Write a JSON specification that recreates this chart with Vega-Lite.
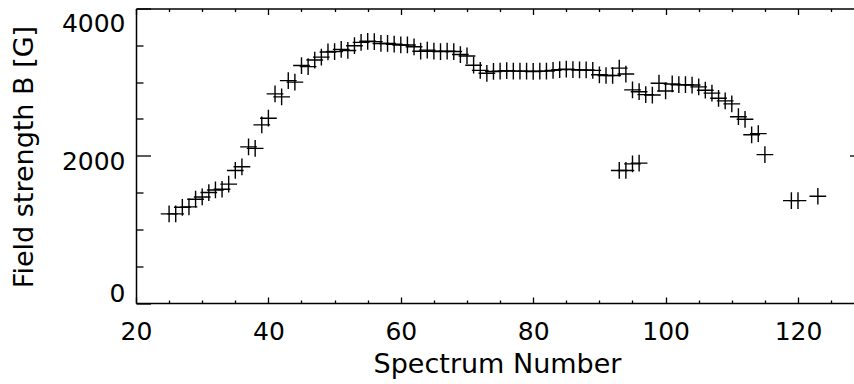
{
  "$schema": "https://vega.github.io/schema/vega-lite/v6.json",
  "width": 718,
  "height": 294.5,
  "autosize": {"type": "none"},
  "padding": {"left": 136, "top": 8.5, "right": 0, "bottom": 81},
  "background": "white",
  "config": {
    "view": {"stroke": null},
    "font": "DejaVu Sans",
    "axis": {
      "grid": false,
      "domainColor": "black",
      "tickColor": "black",
      "labelColor": "black",
      "titleColor": "black",
      "domainWidth": 1.5,
      "tickWidth": 1.3,
      "labelFont": "DejaVu Sans",
      "titleFont": "DejaVu Sans",
      "labelFontSize": 25,
      "titleFontSize": 27,
      "titleFontWeight": "normal",
      "labelOverlap": false,
      "labelFlush": false,
      "labelBound": false
    }
  },
  "datasets": {
    "b": [
      {"spectrum": 25, "B": 1210}, {"spectrum": 26, "B": 1210}, {"spectrum": 27, "B": 1300}, {"spectrum": 28, "B": 1305},
      {"spectrum": 29, "B": 1410}, {"spectrum": 30, "B": 1440}, {"spectrum": 31, "B": 1500}, {"spectrum": 32, "B": 1535},
      {"spectrum": 33, "B": 1545}, {"spectrum": 34, "B": 1615}, {"spectrum": 35, "B": 1800}, {"spectrum": 36, "B": 1850},
      {"spectrum": 37, "B": 2120}, {"spectrum": 38, "B": 2100}, {"spectrum": 39, "B": 2420}, {"spectrum": 40, "B": 2510},
      {"spectrum": 41, "B": 2840}, {"spectrum": 42, "B": 2800}, {"spectrum": 43, "B": 3020}, {"spectrum": 44, "B": 3000},
      {"spectrum": 45, "B": 3225}, {"spectrum": 46, "B": 3210}, {"spectrum": 47, "B": 3300}, {"spectrum": 48, "B": 3340},
      {"spectrum": 49, "B": 3410}, {"spectrum": 50, "B": 3415}, {"spectrum": 51, "B": 3445}, {"spectrum": 52, "B": 3430},
      {"spectrum": 53, "B": 3495}, {"spectrum": 54, "B": 3540}, {"spectrum": 55, "B": 3555}, {"spectrum": 56, "B": 3550},
      {"spectrum": 57, "B": 3525}, {"spectrum": 58, "B": 3525}, {"spectrum": 59, "B": 3515}, {"spectrum": 60, "B": 3505},
      {"spectrum": 61, "B": 3505}, {"spectrum": 62, "B": 3480}, {"spectrum": 63, "B": 3420}, {"spectrum": 64, "B": 3435},
      {"spectrum": 65, "B": 3420}, {"spectrum": 66, "B": 3415}, {"spectrum": 67, "B": 3420}, {"spectrum": 68, "B": 3415},
      {"spectrum": 69, "B": 3375}, {"spectrum": 70, "B": 3355}, {"spectrum": 71, "B": 3230}, {"spectrum": 72, "B": 3160},
      {"spectrum": 73, "B": 3120}, {"spectrum": 74, "B": 3145}, {"spectrum": 75, "B": 3150}, {"spectrum": 76, "B": 3155},
      {"spectrum": 77, "B": 3150}, {"spectrum": 78, "B": 3150}, {"spectrum": 79, "B": 3150}, {"spectrum": 80, "B": 3145},
      {"spectrum": 81, "B": 3150}, {"spectrum": 82, "B": 3150}, {"spectrum": 83, "B": 3160}, {"spectrum": 84, "B": 3170},
      {"spectrum": 85, "B": 3175}, {"spectrum": 86, "B": 3170}, {"spectrum": 87, "B": 3165}, {"spectrum": 88, "B": 3165},
      {"spectrum": 89, "B": 3160}, {"spectrum": 90, "B": 3100}, {"spectrum": 91, "B": 3090}, {"spectrum": 92, "B": 3090},
      {"spectrum": 93, "B": 3190}, {"spectrum": 94, "B": 3110}, {"spectrum": 95, "B": 2895}, {"spectrum": 96, "B": 2870},
      {"spectrum": 97, "B": 2830}, {"spectrum": 98, "B": 2825}, {"spectrum": 99, "B": 2985}, {"spectrum": 100, "B": 2880},
      {"spectrum": 101, "B": 2975}, {"spectrum": 102, "B": 2965}, {"spectrum": 103, "B": 2965}, {"spectrum": 104, "B": 2960},
      {"spectrum": 105, "B": 2935}, {"spectrum": 106, "B": 2890}, {"spectrum": 107, "B": 2850}, {"spectrum": 108, "B": 2780},
      {"spectrum": 109, "B": 2745}, {"spectrum": 110, "B": 2705}, {"spectrum": 111, "B": 2530}, {"spectrum": 112, "B": 2495},
      {"spectrum": 113, "B": 2285}, {"spectrum": 114, "B": 2300}, {"spectrum": 115, "B": 2015},
      {"spectrum": 93, "B": 1800}, {"spectrum": 94, "B": 1800}, {"spectrum": 95, "B": 1890}, {"spectrum": 96, "B": 1900},
      {"spectrum": 119, "B": 1390}, {"spectrum": 120, "B": 1390}, {"spectrum": 123, "B": 1450}
    ]
  },
  "layer": [
    {
      "data": {"name": "b"},
      "mark": {"type": "point", "shape": "M-1,0H1M0,-1V1", "size": 280, "filled": false, "stroke": "black", "strokeWidth": 1.4, "opacity": 1},
      "encoding": {
        "x": {
          "field": "spectrum", "type": "quantitative",
          "scale": {"domain": [20, 128.46], "nice": false, "zero": false},
          "axis": {
            "orient": "bottom",
            "values": [20, 25, 30, 35, 40, 45, 50, 55, 60, 65, 70, 75, 80, 85, 90, 95, 100, 105, 110, 115, 120, 125],
            "format": "d",
            "labelExpr": "datum.value % 20 === 0 ? datum.label : ''",
            "tickSize": {"condition": {"test": "datum.value % 20 === 0", "value": -6}, "value": -3},
            "labelPadding": 42,
            "labelBaseline": "alphabetic",
            "title": "Spectrum Number",
            "titleX": 361,
            "titleY": 69,
            "titleBaseline": "alphabetic",
            "titleAlign": "center"
          }
        },
        "y": {
          "field": "B", "type": "quantitative",
          "scale": {"domain": [0, 4000], "nice": false, "zero": true},
          "axis": {
            "orient": "left",
            "values": [0, 500, 1000, 1500, 2000, 2500, 3000, 3500, 4000],
            "format": "d",
            "labelExpr": "datum.value % 2000 === 0 ? datum.label : ''",
            "tickSize": {"condition": {"test": "datum.value % 2000 === 0", "value": -14.5}, "value": -7},
            "labelPadding": 25.5,
            "labelOffset": {"condition": [{"test": "datum.value === 4000", "value": 15}, {"test": "datum.value === 0", "value": -9.5}], "value": 5.5},
            "title": "Field strength B [G]",
            "titleAngle": 270,
            "titleX": -104,
            "titleY": 148,
            "titleBaseline": "alphabetic",
            "titleAlign": "center"
          }
        }
      }
    },
    {
      "data": {"name": "b"},
      "mark": {"type": "point", "opacity": 0},
      "encoding": {
        "x": {
          "field": "spectrum", "type": "quantitative",
          "scale": {"domain": [20, 128.46], "nice": false, "zero": false},
          "axis": {
            "orient": "top",
            "values": [20, 25, 30, 35, 40, 45, 50, 55, 60, 65, 70, 75, 80, 85, 90, 95, 100, 105, 110, 115, 120, 125],
            "labels": false,
            "tickSize": {"condition": {"test": "datum.value % 20 === 0", "value": -6}, "value": -3},
            "title": null
          }
        },
        "y": {
          "field": "B", "type": "quantitative",
          "scale": {"domain": [0, 4000], "nice": false},
          "axis": {
            "orient": "right",
            "values": [2000],
            "labels": false,
            "domain": false,
            "tickSize": -4.5,
            "title": null
          }
        }
      }
    }
  ],
  "resolve": {"axis": {"x": "independent", "y": "independent"}}
}
